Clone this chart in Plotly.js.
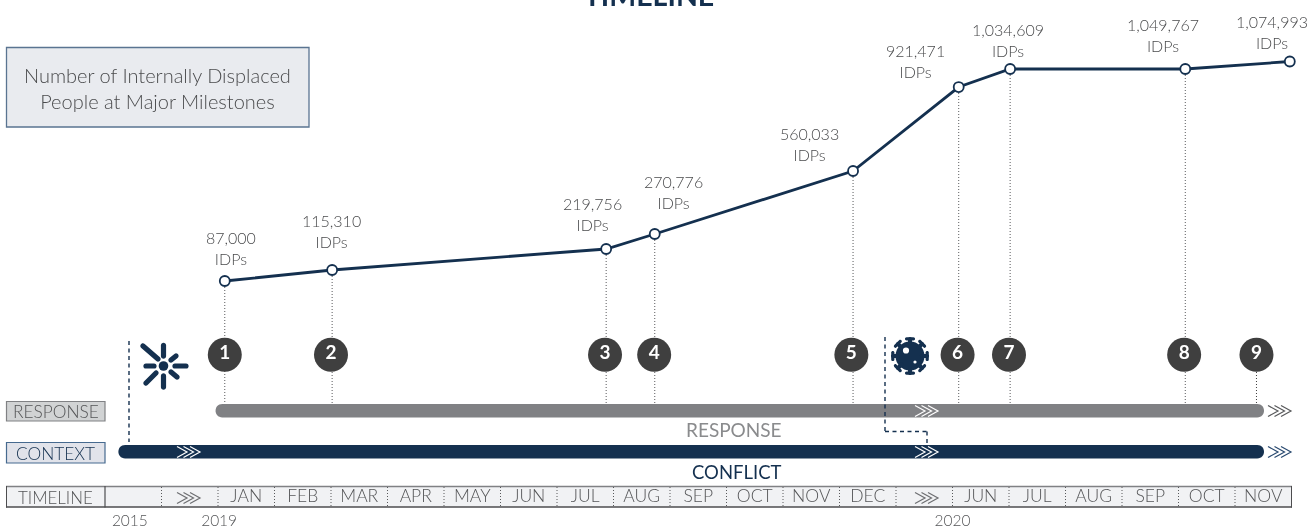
<!DOCTYPE html>
<html>
<head>
<meta charset="utf-8">
<script src="https://cdn.plot.ly/plotly-3.0.1.min.js"></script>
<style>html,body{margin:0;padding:0;background:#fff}#chart{width:1311px;height:531px}#chart .main-svg{will-change:transform}</style>
</head>
<body>
<div id="chart"></div>
<script>
// Timeline cells (one axis unit = one cell; JAN 2019 starts at 0). The gap cell carries chevrons instead of a word.
const timelineLabels = ["JAN","FEB","MAR","APR","MAY","JUN","JUL","AUG","SEP","OCT","NOV","DEC","","JUN","JUL","AUG","SEP","OCT","NOV"];
const timelineCellStarts = [0,1,2,3,4,5,6,7,8,9,10,11,12,13,14,15,16,17,18];
const yearLabels = ["2015","2019","2020"];
const yearPositions = [-1.56,0.02,13];

// Milestones
const milestoneNumbers = ["1","2","3","4","5","6","7","8","9"];
const milestoneMonths = [0.12,2.02,6.87,7.73,11.24,13.11,14.02,17.12,18.97];
const badgeMonths = [0.12,2.0,6.85,7.72,11.21,13.09,14.0,17.1,18.38];
const idpLabels = ["87,000","115,310","219,756","270,776","560,033","921,471","1,034,609","1,049,767","1,074,993"];
// Height of the line at each milestone (the original is not drawn to scale)
const idpLineLevels = [87000,136400,230700,298000,580900,958000,1038900,1038900,1072600];

// Lanes
const responseSpan = [-0.04,18.51];
const contextSpan = [-1.76,18.51];

const NAVY="#14304f", GREY="#808184", TXT="#4a4b4d", MID="#545557", FONT="Lato, 'Open Sans', sans-serif";
const pxX = p => (p-218)/56.5;        // page pixel -> month units
const shapes=[], annotations=[];

function addRect(x0,y0,x1,y1,fill,line,w,layer){
  shapes.push({type:"rect",xref:"x",yref:"y2",x0:pxX(x0),x1:pxX(x1),y0,y1,fillcolor:fill,line:{color:line||fill,width:w===undefined?1:w},layer:layer||"above"});
}
function addLine(x0,y0,x1,y1,color,w,dash,layer){
  shapes.push({type:"line",xref:"x",yref:"y2",x0:pxX(x0),x1:pxX(x1),y0,y1,line:{color,width:w,dash:dash||"solid"},layer:layer||"above"});
}
function P(x,y){return pxX(x)+","+y;}
// Filled capsule between two page points, radius r (rounded ends through Bezier curves)
function capsule(x0,y0,x1,y1,r,fill){
  const len=Math.hypot(x1-x0,y1-y0), ux=(x1-x0)/len, uy=(y1-y0)/len, nx=-uy*r, ny=ux*r, k=1.35*r;
  const d="M"+P(x0+nx,y0+ny)+" L"+P(x1+nx,y1+ny)+
    " C"+P(x1+nx+ux*k,y1+ny+uy*k)+" "+P(x1-nx+ux*k,y1-ny+uy*k)+" "+P(x1-nx,y1-ny)+
    " L"+P(x0-nx,y0-ny)+
    " C"+P(x0-nx-ux*k,y0-ny-uy*k)+" "+P(x0+nx-ux*k,y0+ny-uy*k)+" "+P(x0+nx,y0+ny)+" Z";
  shapes.push({type:"path",xref:"x",yref:"y2",path:d,fillcolor:fill,line:{width:0},layer:"above"});
}
function circle(cx,cy,r,fill){
  shapes.push({type:"circle",xref:"x",yref:"y2",x0:pxX(cx-r),x1:pxX(cx+r),y0:cy-r,y1:cy+r,fillcolor:fill,line:{width:0},layer:"above"});
}
function chevrons(x,y,color){
  for(let i=0;i<3;i++){
    const a=x+i*6.5;
    const d="M"+P(a,y-5.5)+" L"+P(a+10,y)+" L"+P(a,y+5.5);
    shapes.push({type:"path",xref:"x",yref:"y2",path:d,fillcolor:"rgba(0,0,0,0)",line:{color,width:1.2},layer:"above"});
  }
}
function label(x,y,text,size,color,weight){
  annotations.push({xref:"x",yref:"y2",x:pxX(x),y,text,showarrow:false,xanchor:"center",yanchor:"middle",font:{family:FONT,size,color,weight:weight||300}});
}

// Note box
addRect(6.5,47.5,309,127,"#e9ebef","#5a7491",1.3);
label(157.5,87.5,"Number of Internally Displaced<br>People at Major Milestones",20,TXT);

// Dotted drops from the line to the response bar
milestoneMonths.slice(0,8).forEach((m,i)=>{
  shapes.push({type:"line",xref:"x",yref:"y2",x0:m,x1:m,y0:281-(idpLineLevels[i]-87000)*0.0002227,y1:404,line:{color:"#58595b",width:1,dash:"1px,2px"},layer:"below"});
});
shapes.push({type:"line",xref:"x",yref:"y2",x0:badgeMonths[8],x1:badgeMonths[8],y0:354,y1:404,line:{color:"#3f3f3f",width:1,dash:"1px,2px"},layer:"below"});

// Lane labels and bars
addRect(6.5,401.5,105,421,"#d1d3d4",GREY,1.2);
label(55.5,411.5,"RESPONSE",17.3,MID);
addRect(6.5,442.5,105,463,"#e1e3ea","#466a8f",1.2);
label(55.5,453,"CONTEXT",17.3,NAVY);

function bar(span,y0,y1,color){
  capsule(218+56.5*span[0]+6.6,(y0+y1)/2,218+56.5*span[1]-6.6,(y0+y1)/2,(y1-y0)/2,color);
}
bar(responseSpan,404,417.4,GREY);
bar(contextSpan,445,458.4,NAVY);
chevrons(915,411,"#fff"); chevrons(915,452,"#fff"); chevrons(177,452,"#fff");
chevrons(1268,411,"#58595b"); chevrons(1268,452,"#2a4a70");
label(734,429,"RESPONSE",19,"#8a8b8d",400);
label(737,472,"CONFLICT",18.5,NAVY,400);

// Dashed connectors
addLine(129,341,129,442,NAVY,1.4,"4px,3.5px");
addLine(885,337,885,431.5,NAVY,1.4,"4px,3.5px");
addLine(885,431.5,927,431.5,NAVY,1.4,"4px,3.5px");
addLine(927,431.5,927,445,NAVY,1.4,"4px,3.5px");

// Burst icon
[[143,346,158,359],[163.5,345.5,163.5,356],[171,360,176,356],[175,366,186,366],[171,372,177,377],[163.5,376,163.5,387],[146,383,156,373],[146,366,154,366]]
 .forEach(s=>capsule(s[0],s[1],s[2],s[3],2.6,NAVY));
circle(163.5,366,4.8,NAVY);

// Virus icon
const vx=910,vy=356;
circle(vx,vy,14.5,NAVY);
for(let i=0;i<8;i++){
  const a=i*Math.PI/4, c=Math.cos(a), s=Math.sin(a);
  capsule(vx+c*12,vy+s*12,vx+c*17,vy+s*17,2,NAVY);
  capsule(vx+c*17.2-s*3.4,vy+s*17.2+c*3.4,vx+c*17.2+s*3.4,vy+s*17.2-c*3.4,1.6,NAVY);
}
circle(906,350.5,3.1,"#fff");
circle(915,362,1.6,"#fff");

// Timeline strip
addRect(6.5,486.5,1291.5,507,"#f1f2f4","rgba(0,0,0,0)",0,"below");
addLine(6,486.5,1292,486.5,GREY,1.6);
addLine(6,507,1292,507,"#4d4d4f",1.4);
addLine(6.5,486,6.5,507.5,"#4d4d4f",1);
addLine(1291.5,486,1291.5,507.5,"#4d4d4f",1);
addLine(105,486,105,507.5,"#4d4d4f",1.2);
label(55.5,497,"TIMELINE",16.9,MID);
[-1].concat(timelineCellStarts).forEach(m=>{
  shapes.push({type:"line",xref:"x",yref:"y2",x0:m,x1:m,y0:487,y1:507,line:{color:"#58595b",width:1,dash:"1px,2px"},layer:"above"});
});
chevrons(177,498,"#6d6e71");
chevrons(915,498,"#6d6e71");

// IDP labels (page position of each two-line label, [x, y-centre])
const labelPlaces=[[231,247.5],[331,231],[592,213.5],[673,192],[809,144],[915,60.5],[1008,39.5],[1163,35],[1272,32]];
idpLabels.forEach((t,i)=>label(labelPlaces[i][0],labelPlaces[i][1],t+"<br>IDPs",16,TXT));

const traces=[
  {type:"scatter",mode:"lines+markers",x:milestoneMonths,y:idpLineLevels,xaxis:"x",yaxis:"y",
   line:{color:NAVY,width:2.8},marker:{size:10,color:"#fff",line:{color:NAVY,width:1.8}},hoverinfo:"skip",cliponaxis:false},
  {type:"scatter",mode:"markers+text",x:badgeMonths,y:badgeMonths.map(()=>354.7),xaxis:"x",yaxis:"y2",
   text:milestoneNumbers,textposition:"middle center",textfont:{family:FONT,size:19,color:"#fff",weight:700},
   marker:{size:34,color:"#3f3f3f"},hoverinfo:"skip"},
  {type:"scatter",mode:"text",x:timelineCellStarts.map(v=>v+0.5),y:timelineCellStarts.map(()=>498),xaxis:"x",yaxis:"y2",
   text:timelineLabels,textposition:"middle center",textfont:{family:FONT,size:17.5,color:MID,weight:300},hoverinfo:"skip"},
  {type:"scatter",mode:"text",x:yearPositions,y:yearPositions.map(()=>522.5),xaxis:"x",yaxis:"y2",
   text:yearLabels,textposition:"middle center",textfont:{family:FONT,size:15.5,color:MID,weight:300},hoverinfo:"skip",cliponaxis:false}
];

const layout={
  width:1311,height:531,autosize:false,showlegend:false,
  margin:{l:0,r:0,t:0,b:0,pad:0},
  paper_bgcolor:"#fff",plot_bgcolor:"#fff",
  font:{family:FONT,color:TXT},
  title:{text:"<b>TIMELINE</b>",font:{family:FONT,size:28.5,color:NAVY},x:649/1311,xanchor:"center",xref:"paper",y:1-6/531,yanchor:"bottom",yref:"container"},
  xaxis:{range:[pxX(0),pxX(1311)],visible:false,fixedrange:true},
  yaxis:{range:[-1035586,1348787],visible:false,fixedrange:true},
  yaxis2:{range:[531,0],visible:false,overlaying:"y",fixedrange:true},
  shapes,annotations
};
Plotly.newPlot("chart",traces,layout,{displayModeBar:false,staticPlot:true});
</script>
</body>
</html>
